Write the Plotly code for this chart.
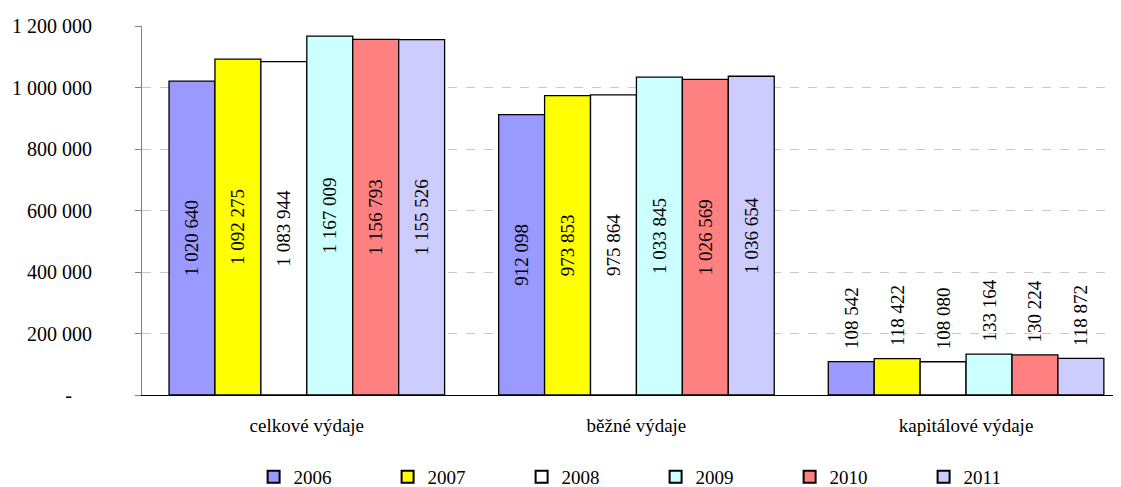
import plotly.graph_objects as go

categories = ["celkové výdaje", "běžné výdaje", "kapitálové výdaje"]
years = ["2006", "2007", "2008", "2009", "2010", "2011"]
values = {
    "2006": [1020640, 912098, 108542],
    "2007": [1092275, 973853, 118422],
    "2008": [1083944, 975864, 108080],
    "2009": [1167009, 1033845, 133164],
    "2010": [1156793, 1026569, 130224],
    "2011": [1155526, 1036654, 118872],
}
colors = ["#9999FF", "#FFFF00", "#FFFFFF", "#CCFFFF", "#FF8080", "#CCCCFF"]
tick_vals = [0, 200000, 400000, 600000, 800000, 1000000, 1200000]
tick_text = ["-\u00a0\u00a0\u00a0\u00a0", "200 000", "400 000", "600 000", "800 000",
             "1 000 000", "1 200 000"]
label_pos = ["inside", "inside", "outside"]

def fmt(v):
    return f"{v:,}".replace(",", " ")

FONT = "Times New Roman, Liberation Serif, serif"
FS = 19

fig = go.Figure()
for i, y in enumerate(years):
    vals = values[y]
    texts = [("\u00a0\u00a0" + fmt(v)) if p == "outside" else fmt(v)
             for v, p in zip(vals, label_pos)]
    fig.add_trace(go.Bar(
        name=y, x=categories, y=vals,
        text=texts,
        textposition=label_pos,
        insidetextanchor="middle",
        textangle=-90,
        textfont=dict(family=FONT, size=FS, color="black"),
        constraintext="none",
        cliponaxis=False,
        marker=dict(color=colors[i], line=dict(color="black", width=1.3)),
    ))

# the page body adds an 8px offset; size the figure so the visible area matches
fig.update_layout(
    width=1113, height=479,
    margin=dict(l=134, r=0, t=18, b=92, autoexpand=False),
    paper_bgcolor="white", plot_bgcolor="white",
    barmode="group", bargap=0.164, bargroupgap=0,
    font=dict(family=FONT, size=FS, color="black"),
    showlegend=True,
    legend=dict(orientation="h", x=0.114, xanchor="left", y=-0.222, yanchor="middle",
                entrywidth=89, entrywidthmode="pixels", itemwidth=30,
                font=dict(family=FONT, size=FS), itemsizing="constant"),
    xaxis=dict(range=[-0.5, 2.47], showline=True, linecolor="black", linewidth=1,
               ticks="", ticklabelstandoff=13, tickfont=dict(family=FONT, size=FS)),
    yaxis=dict(range=[0, 1200000], tickvals=tick_vals, ticktext=tick_text,
               showline=True, linecolor="#808080", linewidth=1,
               ticks="outside", ticklen=6, tickcolor="#808080",
               showgrid=True, gridcolor="#C8C8C8", griddash="dash", gridwidth=1,
               zeroline=False, ticklabelstandoff=39,
               tickfont=dict(family=FONT, size=20)),
)

fig.write_html("out.html")
